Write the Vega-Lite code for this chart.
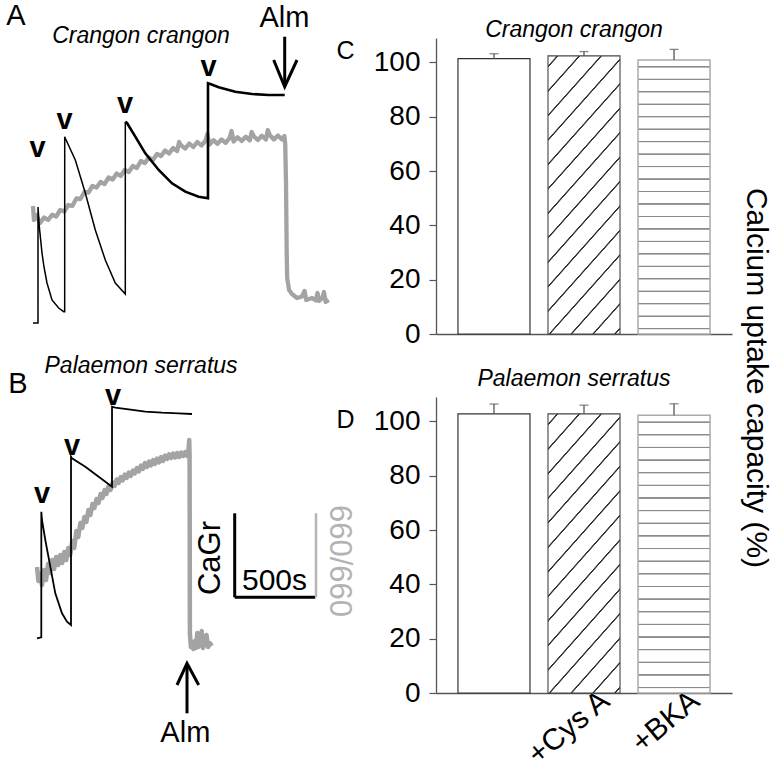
{
  "$schema": "https://vega.github.io/schema/vega-lite/v6.json",
  "background": "white",
  "padding": {"left": 6, "top": 2, "right": 0, "bottom": 0},
  "autosize": {"type": "pad"},
  "bounds": "flush",
  "columns": 2,
  "spacing": {"row": 63, "column": 104},
  "config": {
    "view": {"stroke": null},
    "font": "Liberation Sans",
    "text": {"font": "Liberation Sans", "color": "#000"},
    "axis": {"labelFont": "Liberation Sans", "titleFont": "Liberation Sans"},
    "title": {"font": "Liberation Sans"}
  },
  "datasets": {
    "greyA": [
      {"t":6,"v":128},{"t":12,"v":114},{"t":25,"v":119},{"t":50,"v":111},{"t":75,"v":116.5},{"t":100,"v":114},{"t":125,"v":119.3},{"t":150,"v":117.5},{"t":175,"v":124},{"t":200,"v":122.5},{"t":225,"v":129},{"t":250,"v":128},{"t":275,"v":135.5},{"t":300,"v":135},{"t":325,"v":142},{"t":350,"v":141.5},{"t":375,"v":148},{"t":400,"v":146.5},{"t":425,"v":152},{"t":450,"v":150},{"t":475,"v":156.5},{"t":500,"v":154.5},{"t":525,"v":160.5},{"t":550,"v":158},{"t":575,"v":164},{"t":600,"v":162},{"t":625,"v":168},{"t":650,"v":166},{"t":675,"v":173},{"t":700,"v":171},{"t":725,"v":176.5},{"t":750,"v":174},{"t":775,"v":180},{"t":800,"v":178},{"t":825,"v":183.5},{"t":850,"v":180.5},{"t":875,"v":186},{"t":900,"v":183},{"t":912,"v":192},{"t":925,"v":188.5},{"t":950,"v":185.5},{"t":975,"v":190.5},{"t":1000,"v":187},{"t":1025,"v":192},{"t":1050,"v":188.5},{"t":1075,"v":193},{"t":1087,"v":200},{"t":1100,"v":189.5},{"t":1125,"v":193.8},{"t":1150,"v":190.2},{"t":1175,"v":194.6},{"t":1200,"v":191.2},{"t":1225,"v":196},{"t":1237,"v":203},{"t":1250,"v":192.5},{"t":1275,"v":196.8},{"t":1300,"v":193},{"t":1325,"v":197.3},{"t":1350,"v":193.6},{"t":1362,"v":202},{"t":1375,"v":197.8},{"t":1400,"v":194},{"t":1425,"v":198.3},{"t":1450,"v":194.5},{"t":1462,"v":204},{"t":1475,"v":198.6},{"t":1500,"v":194.6},{"t":1525,"v":198.5},{"t":1550,"v":194.5},{"t":1565,"v":198},{"t":1570,"v":190},{"t":1575,"v":150},{"t":1579,"v":84},{"t":1582,"v":56},{"t":1594,"v":44},{"t":1612,"v":40},{"t":1643,"v":36},{"t":1674,"v":37.5},{"t":1690,"v":43},{"t":1700,"v":34},{"t":1736,"v":36},{"t":1760,"v":33.5},{"t":1770,"v":41},{"t":1780,"v":33},{"t":1800,"v":36},{"t":1810,"v":42},{"t":1820,"v":32},{"t":1840,"v":34}
    ],
    "blackA": [
      {"t":6.2,"v":11},{"t":37.2,"v":11},{"t":37.3,"v":127},{"t":45.3,"v":107.3},{"t":62,"v":81},{"t":74.4,"v":67},{"t":93,"v":51},{"t":124,"v":34},{"t":165.5,"v":26},{"t":196.5,"v":22.3},{"t":202.7,"v":22.3},{"t":202.8,"v":197.3},{"t":206.5,"v":195.7},{"t":268.5,"v":174},{"t":330.5,"v":141},{"t":392.5,"v":104},{"t":454.5,"v":74},{"t":516.5,"v":51},{"t":578.5,"v":40},{"t":578.6,"v":212.3},{"t":589,"v":211},{"t":640.5,"v":197.3},{"t":702.5,"v":180.7},{"t":785.5,"v":164},{"t":868,"v":150.7},{"t":950.5,"v":142.3},{"t":1033.5,"v":137.3},{"t":1091,"v":135.7},{"t":1091.1,"v":250.7},{"t":1105.5,"v":250},{"t":1157.5,"v":246.7},{"t":1260.5,"v":242.3},{"t":1364,"v":240},{"t":1467.5,"v":239},{"t":1566.7,"v":239}
    ],
    "greyB": [
      {"t":31,"v":126},{"t":40,"v":112},{"t":50,"v":119},{"t":62,"v":108},{"t":75,"v":123},{"t":87,"v":113},{"t":100,"v":129},{"t":112,"v":120},{"t":125,"v":133},{"t":137,"v":124},{"t":150,"v":136},{"t":162,"v":128},{"t":175,"v":138},{"t":187,"v":130},{"t":200,"v":141},{"t":212,"v":133},{"t":225,"v":145},{"t":237,"v":138},{"t":250,"v":152},{"t":262,"v":145},{"t":275,"v":162},{"t":287,"v":156},{"t":300,"v":170},{"t":312,"v":165},{"t":325,"v":176},{"t":337,"v":171},{"t":350,"v":183},{"t":362,"v":178},{"t":375,"v":189},{"t":387,"v":185},{"t":400,"v":194},{"t":412,"v":190},{"t":425,"v":199},{"t":437,"v":195},{"t":450,"v":203},{"t":462,"v":199},{"t":475,"v":207},{"t":487,"v":203},{"t":500,"v":210.5},{"t":512,"v":207},{"t":525,"v":213.5},{"t":537,"v":210},{"t":550,"v":216},{"t":562,"v":212.5},{"t":575,"v":218.5},{"t":587,"v":215},{"t":600,"v":220.5},{"t":612,"v":217},{"t":625,"v":222.5},{"t":637,"v":219.5},{"t":650,"v":225},{"t":662,"v":221.5},{"t":675,"v":227.5},{"t":687,"v":224},{"t":700,"v":230},{"t":712,"v":226},{"t":725,"v":231.5},{"t":737,"v":227.5},{"t":750,"v":233},{"t":762,"v":229},{"t":775,"v":234.5},{"t":787,"v":230.5},{"t":800,"v":236},{"t":812,"v":232},{"t":825,"v":237.5},{"t":837,"v":234},{"t":850,"v":238.7},{"t":862,"v":235},{"t":875,"v":239.5},{"t":887,"v":235.5},{"t":900,"v":240},{"t":912,"v":236},{"t":925,"v":240.5},{"t":937,"v":237},{"t":950,"v":241},{"t":962,"v":237},{"t":970,"v":242},{"t":975,"v":253},{"t":977,"v":238},{"t":979,"v":60},{"t":985,"v":46},{"t":992,"v":50},{"t":1000,"v":44},{"t":1010,"v":52},{"t":1015,"v":45},{"t":1025,"v":60},{"t":1032,"v":46},{"t":1042,"v":50},{"t":1052,"v":62},{"t":1060,"v":45},{"t":1070,"v":49},{"t":1082,"v":58},{"t":1092,"v":46},{"t":1102,"v":50},{"t":1115,"v":47}
    ],
    "blackB": [
      {"t":31,"v":54.7},{"t":57.7,"v":55.7},{"t":57.8,"v":181.3},{"t":62,"v":173},{"t":82.5,"v":153},{"t":113.5,"v":126.3},{"t":144.5,"v":99.7},{"t":186,"v":79.7},{"t":217,"v":71.3},{"t":241.8,"v":68},{"t":241.9,"v":236.3},{"t":248,"v":234.7},{"t":330.5,"v":226.3},{"t":413.5,"v":216.3},{"t":496,"v":206.3},{"t":496.1,"v":286.3},{"t":516.5,"v":285.3},{"t":599.5,"v":283.7},{"t":702.5,"v":281.3},{"t":806,"v":280.3},{"t":909.5,"v":279.7},{"t":992,"v":279}
    ],
    "barsC": [
      {"cond": "Control", "mean": 101.4, "upper": 103.2},
      {"cond": "+Cys A", "mean": 102.4, "upper": 104.0},
      {"cond": "+BKA", "mean": 100.9, "upper": 104.8}
    ],
    "barsD": [
      {"cond": "Control", "mean": 102.8, "upper": 106.4},
      {"cond": "+Cys A", "mean": 102.8, "upper": 106.0},
      {"cond": "+BKA", "mean": 102.3, "upper": 106.5}
    ]
  },
  "concat": [
    {
      "width": 300,
      "height": 296,
      "layer": [
        {"data": {"name": "greyA"}, "mark": {"type": "line", "color": "#a3a3a3", "strokeWidth": 4.3, "strokeJoin": "round"},
         "encoding": {"x": {"field": "t", "type": "quantitative", "scale": {"domain": [0, 1860], "nice": false, "zero": false}, "axis": null},
                      "y": {"field": "v", "type": "quantitative", "scale": {"domain": [0, 296], "nice": false, "zero": false}, "axis": null}}},
        {"data": {"name": "blackA"}, "transform": [{"filter": "datum.t <= 578.6"}], "mark": {"type": "line", "color": "#000", "strokeWidth": 1.5},
         "encoding": {"x": {"field": "t", "type": "quantitative", "scale": {"domain": [0, 1860], "nice": false, "zero": false}, "axis": null},
                      "y": {"field": "v", "type": "quantitative", "scale": {"domain": [0, 296], "nice": false, "zero": false}, "axis": null}}},
        {"data": {"name": "blackA"}, "transform": [{"filter": "datum.t >= 578.6"}], "mark": {"type": "line", "color": "#000", "strokeWidth": 2.6},
         "encoding": {"x": {"field": "t", "type": "quantitative", "scale": {"domain": [0, 1860], "nice": false, "zero": false}, "axis": null},
                      "y": {"field": "v", "type": "quantitative", "scale": {"domain": [0, 296], "nice": false, "zero": false}, "axis": null}}},
        {"data": {"values": [{"t": 34, "v": 177}, {"t": 201.5, "v": 205}, {"t": 576.6, "v": 221}, {"t": 1094, "v": 258}]},
         "mark": {"type": "text", "text": "v", "fontSize": 29, "fontWeight": "bold", "baseline": "alphabetic", "align": "center"},
         "encoding": {"x": {"field": "t", "type": "quantitative", "scale": {"domain": [0, 1860], "nice": false, "zero": false}, "axis": null},
                      "y": {"field": "v", "type": "quantitative", "scale": {"domain": [0, 296], "nice": false, "zero": false}, "axis": null}}},
        {"data": {"values": [{"t": 1566.7, "v": 297.3, "v2": 248}]}, "mark": {"type": "rule", "color": "#000", "strokeWidth": 3},
         "encoding": {"x": {"field": "t", "type": "quantitative", "scale": {"domain": [0, 1860], "nice": false, "zero": false}, "axis": null},
                      "y": {"field": "v", "type": "quantitative", "scale": {"domain": [0, 296], "nice": false, "zero": false}, "axis": null},
                      "y2": {"field": "v2"}}},
        {"data": {"values": [{"t": 1498.5, "v": 274}, {"t": 1566.7, "v": 247.3}, {"t": 1643, "v": 274}]}, "mark": {"type": "line", "color": "#000", "strokeWidth": 3, "strokeJoin": "miter"},
         "encoding": {"x": {"field": "t", "type": "quantitative", "scale": {"domain": [0, 1860], "nice": false, "zero": false}, "axis": null},
                      "y": {"field": "v", "type": "quantitative", "scale": {"domain": [0, 296], "nice": false, "zero": false}, "axis": null}}},
        {"data": {"values": [{"t": 1565.5, "v": 307.3, "label": "Alm"}, {"t": -99.2, "v": 309, "label": "A"}]},
         "mark": {"type": "text", "fontSize": 29, "baseline": "alphabetic", "align": "center"},
         "encoding": {"x": {"field": "t", "type": "quantitative", "scale": {"domain": [0, 1860], "nice": false, "zero": false}, "axis": null},
                      "y": {"field": "v", "type": "quantitative", "scale": {"domain": [0, 296], "nice": false, "zero": false}, "axis": null},
                      "text": {"field": "label"}}},
        {"data": {"values": [{"t": 675.8, "v": 291, "label": "Crangon crangon"}]},
         "mark": {"type": "text", "fontSize": 23, "fontStyle": "italic", "baseline": "alphabetic", "align": "center"},
         "encoding": {"x": {"field": "t", "type": "quantitative", "scale": {"domain": [0, 1860], "nice": false, "zero": false}, "axis": null},
                      "y": {"field": "v", "type": "quantitative", "scale": {"domain": [0, 296], "nice": false, "zero": false}, "axis": null},
                      "text": {"field": "label"}}}
      ]
    },
    {
      "width": 296,
      "height": 296,
      "title": {"text": "Crangon crangon", "fontSize": 23, "fontStyle": "italic", "fontWeight": "normal", "baseline": "alphabetic", "offset": -22, "dx": -10, "anchor": "middle", "color": "#000"},
      "data": {"name": "barsC"},
      "layer": [
        {"transform": [{"filter": "datum.cond == 'Control'"}],
         "mark": {"type": "bar", "fill": "#ffffff", "stroke": "#333333", "strokeWidth": 1.2},
         "encoding": {
           "x": {"field": "cond", "type": "nominal", "scale": {"domain": ["Control", "+Cys A", "+BKA"], "paddingInner": 0.2, "paddingOuter": 0.244}, "axis": {"title": null, "labels": false, "ticks": false, "tickSize": 0, "domainColor": "#555", "domainWidth": 1.3}},
           "y": {"field": "mean", "type": "quantitative", "scale": {"domain": [0, 109], "nice": false, "zero": true},
                 "axis": {"orient": "left", "values": [0, 20, 40, 60, 80, 100], "title": "C", "titleAngle": 0, "titleX": -91, "titleY": 20, "titleFontSize": 25, "titleFontWeight": "normal", "titleAlign": "center", "titleBaseline": "alphabetic", "titleColor": "#000", "labelFontSize": 28, "labelColor": "#000", "labelPadding": 9, "tickSize": 7, "tickColor": "#555", "tickWidth": 1.2, "domainColor": "#555", "domainWidth": 1.3, "grid": false}}
         }},
        {"transform": [{"filter": "datum.cond == '+Cys A'"}],
         "mark": {"type": "bar", "stroke": "#444444", "strokeWidth": 1.1,
                  "fill": {"gradient": "linear", "x1": 0, "y1": 0, "x2": 0.345, "y2": 1.189, "stops": [
                    {"offset": 0.026, "color": "#ffffff"}, {"offset": 0.0282, "color": "#333333"}, {"offset": 0.0318, "color": "#333333"}, {"offset": 0.034, "color": "#ffffff"},
                    {"offset": 0.0942, "color": "#ffffff"}, {"offset": 0.0964, "color": "#333333"}, {"offset": 0.1, "color": "#333333"}, {"offset": 0.1022, "color": "#ffffff"},
                    {"offset": 0.1624, "color": "#ffffff"}, {"offset": 0.1646, "color": "#333333"}, {"offset": 0.1682, "color": "#333333"}, {"offset": 0.1704, "color": "#ffffff"},
                    {"offset": 0.2306, "color": "#ffffff"}, {"offset": 0.2328, "color": "#333333"}, {"offset": 0.2364, "color": "#333333"}, {"offset": 0.2386, "color": "#ffffff"},
                    {"offset": 0.2988, "color": "#ffffff"}, {"offset": 0.301, "color": "#333333"}, {"offset": 0.3046, "color": "#333333"}, {"offset": 0.3068, "color": "#ffffff"},
                    {"offset": 0.367, "color": "#ffffff"}, {"offset": 0.3692, "color": "#333333"}, {"offset": 0.3728, "color": "#333333"}, {"offset": 0.375, "color": "#ffffff"},
                    {"offset": 0.4352, "color": "#ffffff"}, {"offset": 0.4374, "color": "#333333"}, {"offset": 0.441, "color": "#333333"}, {"offset": 0.4432, "color": "#ffffff"},
                    {"offset": 0.5034, "color": "#ffffff"}, {"offset": 0.5056, "color": "#333333"}, {"offset": 0.5092, "color": "#333333"}, {"offset": 0.5114, "color": "#ffffff"},
                    {"offset": 0.5716, "color": "#ffffff"}, {"offset": 0.5738, "color": "#333333"}, {"offset": 0.5774, "color": "#333333"}, {"offset": 0.5796, "color": "#ffffff"},
                    {"offset": 0.6398, "color": "#ffffff"}, {"offset": 0.642, "color": "#333333"}, {"offset": 0.6456, "color": "#333333"}, {"offset": 0.6478, "color": "#ffffff"},
                    {"offset": 0.708, "color": "#ffffff"}, {"offset": 0.7102, "color": "#333333"}, {"offset": 0.7138, "color": "#333333"}, {"offset": 0.716, "color": "#ffffff"},
                    {"offset": 0.7762, "color": "#ffffff"}, {"offset": 0.7784, "color": "#333333"}, {"offset": 0.782, "color": "#333333"}, {"offset": 0.7842, "color": "#ffffff"},
                    {"offset": 0.8444, "color": "#ffffff"}, {"offset": 0.8466, "color": "#333333"}, {"offset": 0.8502, "color": "#333333"}, {"offset": 0.8524, "color": "#ffffff"},
                    {"offset": 0.9126, "color": "#ffffff"}, {"offset": 0.9148, "color": "#333333"}, {"offset": 0.9184, "color": "#333333"}, {"offset": 0.9206, "color": "#ffffff"},
                    {"offset": 0.9808, "color": "#ffffff"}, {"offset": 0.983, "color": "#333333"}, {"offset": 0.9866, "color": "#333333"}, {"offset": 0.9888, "color": "#ffffff"}
                  ]}},
         "encoding": {
           "x": {"field": "cond", "type": "nominal", "scale": {"domain": ["Control", "+Cys A", "+BKA"], "paddingInner": 0.2, "paddingOuter": 0.244}, "axis": {"title": null, "labels": false, "ticks": false, "tickSize": 0, "domainColor": "#555", "domainWidth": 1.3}},
           "y": {"field": "mean", "type": "quantitative", "scale": {"domain": [0, 109], "nice": false, "zero": true}, "axis": null}
         }},
        {"transform": [{"filter": "datum.cond == '+BKA'"}],
         "mark": {"type": "bar", "stroke": "#aaaaaa", "strokeWidth": 1.5,
                  "fill": {"gradient": "linear", "x1": 0, "y1": 0, "x2": 0, "y2": 1, "stops": [
                    {"offset": 0.0215, "color": "#ffffff"}, {"offset": 0.0233, "color": "#8c8c8c"}, {"offset": 0.0267, "color": "#8c8c8c"}, {"offset": 0.0285, "color": "#ffffff"},
                    {"offset": 0.067, "color": "#ffffff"}, {"offset": 0.0688, "color": "#8c8c8c"}, {"offset": 0.0722, "color": "#8c8c8c"}, {"offset": 0.074, "color": "#ffffff"},
                    {"offset": 0.1125, "color": "#ffffff"}, {"offset": 0.1143, "color": "#8c8c8c"}, {"offset": 0.1177, "color": "#8c8c8c"}, {"offset": 0.1195, "color": "#ffffff"},
                    {"offset": 0.158, "color": "#ffffff"}, {"offset": 0.1598, "color": "#8c8c8c"}, {"offset": 0.1632, "color": "#8c8c8c"}, {"offset": 0.165, "color": "#ffffff"},
                    {"offset": 0.2035, "color": "#ffffff"}, {"offset": 0.2053, "color": "#8c8c8c"}, {"offset": 0.2087, "color": "#8c8c8c"}, {"offset": 0.2105, "color": "#ffffff"},
                    {"offset": 0.249, "color": "#ffffff"}, {"offset": 0.2508, "color": "#8c8c8c"}, {"offset": 0.2542, "color": "#8c8c8c"}, {"offset": 0.256, "color": "#ffffff"},
                    {"offset": 0.2945, "color": "#ffffff"}, {"offset": 0.2963, "color": "#8c8c8c"}, {"offset": 0.2997, "color": "#8c8c8c"}, {"offset": 0.3015, "color": "#ffffff"},
                    {"offset": 0.34, "color": "#ffffff"}, {"offset": 0.3418, "color": "#8c8c8c"}, {"offset": 0.3452, "color": "#8c8c8c"}, {"offset": 0.347, "color": "#ffffff"},
                    {"offset": 0.3855, "color": "#ffffff"}, {"offset": 0.3873, "color": "#8c8c8c"}, {"offset": 0.3907, "color": "#8c8c8c"}, {"offset": 0.3925, "color": "#ffffff"},
                    {"offset": 0.431, "color": "#ffffff"}, {"offset": 0.4328, "color": "#8c8c8c"}, {"offset": 0.4362, "color": "#8c8c8c"}, {"offset": 0.438, "color": "#ffffff"},
                    {"offset": 0.4765, "color": "#ffffff"}, {"offset": 0.4783, "color": "#8c8c8c"}, {"offset": 0.4817, "color": "#8c8c8c"}, {"offset": 0.4835, "color": "#ffffff"},
                    {"offset": 0.522, "color": "#ffffff"}, {"offset": 0.5238, "color": "#8c8c8c"}, {"offset": 0.5272, "color": "#8c8c8c"}, {"offset": 0.529, "color": "#ffffff"},
                    {"offset": 0.5675, "color": "#ffffff"}, {"offset": 0.5693, "color": "#8c8c8c"}, {"offset": 0.5727, "color": "#8c8c8c"}, {"offset": 0.5745, "color": "#ffffff"},
                    {"offset": 0.613, "color": "#ffffff"}, {"offset": 0.6148, "color": "#8c8c8c"}, {"offset": 0.6182, "color": "#8c8c8c"}, {"offset": 0.62, "color": "#ffffff"},
                    {"offset": 0.6585, "color": "#ffffff"}, {"offset": 0.6603, "color": "#8c8c8c"}, {"offset": 0.6637, "color": "#8c8c8c"}, {"offset": 0.6655, "color": "#ffffff"},
                    {"offset": 0.704, "color": "#ffffff"}, {"offset": 0.7058, "color": "#8c8c8c"}, {"offset": 0.7092, "color": "#8c8c8c"}, {"offset": 0.711, "color": "#ffffff"},
                    {"offset": 0.7495, "color": "#ffffff"}, {"offset": 0.7513, "color": "#8c8c8c"}, {"offset": 0.7547, "color": "#8c8c8c"}, {"offset": 0.7565, "color": "#ffffff"},
                    {"offset": 0.795, "color": "#ffffff"}, {"offset": 0.7968, "color": "#8c8c8c"}, {"offset": 0.8002, "color": "#8c8c8c"}, {"offset": 0.802, "color": "#ffffff"},
                    {"offset": 0.8405, "color": "#ffffff"}, {"offset": 0.8423, "color": "#8c8c8c"}, {"offset": 0.8457, "color": "#8c8c8c"}, {"offset": 0.8475, "color": "#ffffff"},
                    {"offset": 0.886, "color": "#ffffff"}, {"offset": 0.8878, "color": "#8c8c8c"}, {"offset": 0.8912, "color": "#8c8c8c"}, {"offset": 0.893, "color": "#ffffff"},
                    {"offset": 0.9315, "color": "#ffffff"}, {"offset": 0.9333, "color": "#8c8c8c"}, {"offset": 0.9367, "color": "#8c8c8c"}, {"offset": 0.9385, "color": "#ffffff"},
                    {"offset": 0.977, "color": "#ffffff"}, {"offset": 0.9788, "color": "#8c8c8c"}, {"offset": 0.9822, "color": "#8c8c8c"}, {"offset": 0.984, "color": "#ffffff"}
                  ]}},
         "encoding": {
           "x": {"field": "cond", "type": "nominal", "scale": {"domain": ["Control", "+Cys A", "+BKA"], "paddingInner": 0.2, "paddingOuter": 0.244}, "axis": {"title": null, "labels": false, "ticks": false, "tickSize": 0, "domainColor": "#555", "domainWidth": 1.3}},
           "y": {"field": "mean", "type": "quantitative", "scale": {"domain": [0, 109], "nice": false, "zero": true}, "axis": null}
         }},
        {"mark": {"type": "rule", "color": "#555555", "strokeWidth": 1.3},
         "encoding": {
           "x": {"field": "cond", "type": "nominal", "scale": {"domain": ["Control", "+Cys A", "+BKA"], "paddingInner": 0.2, "paddingOuter": 0.244}, "axis": {"title": null, "labels": false, "ticks": false, "tickSize": 0, "domainColor": "#555", "domainWidth": 1.3}},
           "y": {"field": "mean", "type": "quantitative", "scale": {"domain": [0, 109], "nice": false, "zero": true},
                 "axis": {"orient": "right", "title": "Calcium uptake capacity (%)", "titleAngle": 90, "titleX": 14, "titleY": 339.5, "titleFontSize": 30, "titleFontWeight": "normal", "titleColor": "#000", "titleAlign": "center", "titleBaseline": "alphabetic", "labels": false, "ticks": false, "domain": false, "grid": false}},
           "y2": {"field": "upper"}
         }},
        {"mark": {"type": "tick", "color": "#555555", "thickness": 1.3, "size": 9},
         "encoding": {
           "x": {"field": "cond", "type": "nominal", "scale": {"domain": ["Control", "+Cys A", "+BKA"], "paddingInner": 0.2, "paddingOuter": 0.244}, "axis": {"title": null, "labels": false, "ticks": false, "tickSize": 0, "domainColor": "#555", "domainWidth": 1.3}},
           "y": {"field": "upper", "type": "quantitative", "scale": {"domain": [0, 109], "nice": false, "zero": true}, "axis": null}
         }}
      ],
      "resolve": {"axis": {"y": "independent"}}
    },
    {
      "width": 300,
      "height": 296,
      "layer": [
        {"data": {"name": "greyB"}, "mark": {"type": "line", "color": "#a3a3a3", "strokeWidth": 4.5, "strokeJoin": "round"},
         "encoding": {"x": {"field": "t", "type": "quantitative", "scale": {"domain": [0, 1860], "nice": false, "zero": false}, "axis": null},
                      "y": {"field": "v", "type": "quantitative", "scale": {"domain": [0, 296], "nice": false, "zero": false}, "axis": null}}},
        {"data": {"name": "blackB"}, "mark": {"type": "line", "color": "#000", "strokeWidth": 1.8},
         "encoding": {"x": {"field": "t", "type": "quantitative", "scale": {"domain": [0, 1860], "nice": false, "zero": false}, "axis": null},
                      "y": {"field": "v", "type": "quantitative", "scale": {"domain": [0, 296], "nice": false, "zero": false}, "axis": null}}},
        {"data": {"values": [{"t": 62, "v": 190}, {"t": 248, "v": 238}, {"t": 502, "v": 288}]},
         "mark": {"type": "text", "text": "v", "fontSize": 29, "fontWeight": "bold", "baseline": "alphabetic", "align": "center"},
         "encoding": {"x": {"field": "t", "type": "quantitative", "scale": {"domain": [0, 1860], "nice": false, "zero": false}, "axis": null},
                      "y": {"field": "v", "type": "quantitative", "scale": {"domain": [0, 296], "nice": false, "zero": false}, "axis": null}}},
        {"data": {"values": [{"t": 961, "v": -20.3, "v2": 29}, {"t": 1256.7, "v": 95.7, "v2": 179.7}]}, "mark": {"type": "rule", "color": "#000", "strokeWidth": 3},
         "encoding": {"x": {"field": "t", "type": "quantitative", "scale": {"domain": [0, 1860], "nice": false, "zero": false}, "axis": null},
                      "y": {"field": "v", "type": "quantitative", "scale": {"domain": [0, 296], "nice": false, "zero": false}, "axis": null},
                      "y2": {"field": "v2"}}},
        {"data": {"values": [{"t": 1256.7, "t2": 1756.5, "v": 95.7}]}, "mark": {"type": "rule", "color": "#000", "strokeWidth": 3},
         "encoding": {"x": {"field": "t", "type": "quantitative", "scale": {"domain": [0, 1860], "nice": false, "zero": false}, "axis": null},
                      "x2": {"field": "t2"},
                      "y": {"field": "v", "type": "quantitative", "scale": {"domain": [0, 296], "nice": false, "zero": false}, "axis": null}}},
        {"data": {"values": [{"t": 1760.8, "v": 95.7, "v2": 179.7}]}, "mark": {"type": "rule", "color": "#b5b5b5", "strokeWidth": 2.5},
         "encoding": {"x": {"field": "t", "type": "quantitative", "scale": {"domain": [0, 1860], "nice": false, "zero": false}, "axis": null},
                      "y": {"field": "v", "type": "quantitative", "scale": {"domain": [0, 296], "nice": false, "zero": false}, "axis": null},
                      "y2": {"field": "v2"}}},
        {"data": {"values": [{"t": 899, "v": 8}, {"t": 961, "v": 29.7}, {"t": 1033.5, "v": 8}]}, "mark": {"type": "line", "color": "#000", "strokeWidth": 3, "strokeJoin": "miter"},
         "encoding": {"x": {"field": "t", "type": "quantitative", "scale": {"domain": [0, 1860], "nice": false, "zero": false}, "axis": null},
                      "y": {"field": "v", "type": "quantitative", "scale": {"domain": [0, 296], "nice": false, "zero": false}, "axis": null}}},
        {"data": {"values": [{"t": 950.7, "v": -48.7, "label": "Alm"}, {"t": -86.8, "v": 300, "label": "B"}]},
         "mark": {"type": "text", "fontSize": 29, "baseline": "alphabetic", "align": "center"},
         "encoding": {"x": {"field": "t", "type": "quantitative", "scale": {"domain": [0, 1860], "nice": false, "zero": false}, "axis": null},
                      "y": {"field": "v", "type": "quantitative", "scale": {"domain": [0, 296], "nice": false, "zero": false}, "axis": null},
                      "text": {"field": "label"}}},
        {"data": {"values": [{"t": 1503.5, "v": 103, "label": "500s"}]},
         "mark": {"type": "text", "fontSize": 30, "baseline": "alphabetic", "align": "center"},
         "encoding": {"x": {"field": "t", "type": "quantitative", "scale": {"domain": [0, 1860], "nice": false, "zero": false}, "axis": null},
                      "y": {"field": "v", "type": "quantitative", "scale": {"domain": [0, 296], "nice": false, "zero": false}, "axis": null},
                      "text": {"field": "label"}}},
        {"data": {"values": [{"t": 1165.6, "v": 135, "label": "CaGr"}]},
         "mark": {"type": "text", "fontSize": 31, "baseline": "alphabetic", "align": "center", "angle": 270},
         "encoding": {"x": {"field": "t", "type": "quantitative", "scale": {"domain": [0, 1860], "nice": false, "zero": false}, "axis": null},
                      "y": {"field": "v", "type": "quantitative", "scale": {"domain": [0, 296], "nice": false, "zero": false}, "axis": null},
                      "text": {"field": "label"}}},
        {"data": {"values": [{"t": 1847.6, "v": 132, "label": "660/660"}]},
         "mark": {"type": "text", "fontSize": 31, "baseline": "alphabetic", "align": "center", "angle": 90, "color": "#b3b3b3"},
         "encoding": {"x": {"field": "t", "type": "quantitative", "scale": {"domain": [0, 1860], "nice": false, "zero": false}, "axis": null},
                      "y": {"field": "v", "type": "quantitative", "scale": {"domain": [0, 296], "nice": false, "zero": false}, "axis": null},
                      "text": {"field": "label"}}},
        {"data": {"values": [{"t": 676, "v": 320, "label": "Palaemon serratus"}]},
         "mark": {"type": "text", "fontSize": 23, "fontStyle": "italic", "baseline": "alphabetic", "align": "center"},
         "encoding": {"x": {"field": "t", "type": "quantitative", "scale": {"domain": [0, 1860], "nice": false, "zero": false}, "axis": null},
                      "y": {"field": "v", "type": "quantitative", "scale": {"domain": [0, 296], "nice": false, "zero": false}, "axis": null},
                      "text": {"field": "label"}}}
      ]
    },
    {
      "width": 296,
      "height": 296,
      "title": {"text": "Palaemon serratus", "fontSize": 23, "fontStyle": "italic", "fontWeight": "normal", "baseline": "alphabetic", "offset": -12, "dx": -10, "anchor": "middle", "color": "#000"},
      "data": {"name": "barsD"},
      "layer": [
        {"transform": [{"filter": "datum.cond == 'Control'"}],
         "mark": {"type": "bar", "fill": "#ffffff", "stroke": "#333333", "strokeWidth": 1.2},
         "encoding": {
           "x": {"field": "cond", "type": "nominal", "scale": {"domain": ["Control", "+Cys A", "+BKA"], "paddingInner": 0.2, "paddingOuter": 0.244}, "axis": {"title": null, "ticks": false, "tickSize": 0, "domainColor": "#555", "domainWidth": 1.3, "labelAngle": -40, "labelFontSize": 30, "labelColor": "#000", "labelPadding": -8, "labelOffset": 12, "labelAlign": "right", "labelBaseline": "top", "labelExpr": "datum.value == 'Control' ? '' : datum.label"}},
           "y": {"field": "mean", "type": "quantitative", "scale": {"domain": [0, 109], "nice": false, "zero": true},
                 "axis": {"orient": "left", "values": [0, 20, 40, 60, 80, 100], "title": "D", "titleAngle": 0, "titleX": -91, "titleY": 30, "titleFontSize": 25, "titleFontWeight": "normal", "titleAlign": "center", "titleBaseline": "alphabetic", "titleColor": "#000", "labelFontSize": 28, "labelColor": "#000", "labelPadding": 9, "tickSize": 7, "tickColor": "#555", "tickWidth": 1.2, "domainColor": "#555", "domainWidth": 1.3, "grid": false}}
         }},
        {"transform": [{"filter": "datum.cond == '+Cys A'"}],
         "mark": {"type": "bar", "stroke": "#444444", "strokeWidth": 1.1,
                  "fill": {"gradient": "linear", "x1": 0, "y1": 0, "x2": 0.345, "y2": 1.189, "stops": [
                    {"offset": 0.026, "color": "#ffffff"}, {"offset": 0.0282, "color": "#333333"}, {"offset": 0.0318, "color": "#333333"}, {"offset": 0.034, "color": "#ffffff"},
                    {"offset": 0.0942, "color": "#ffffff"}, {"offset": 0.0964, "color": "#333333"}, {"offset": 0.1, "color": "#333333"}, {"offset": 0.1022, "color": "#ffffff"},
                    {"offset": 0.1624, "color": "#ffffff"}, {"offset": 0.1646, "color": "#333333"}, {"offset": 0.1682, "color": "#333333"}, {"offset": 0.1704, "color": "#ffffff"},
                    {"offset": 0.2306, "color": "#ffffff"}, {"offset": 0.2328, "color": "#333333"}, {"offset": 0.2364, "color": "#333333"}, {"offset": 0.2386, "color": "#ffffff"},
                    {"offset": 0.2988, "color": "#ffffff"}, {"offset": 0.301, "color": "#333333"}, {"offset": 0.3046, "color": "#333333"}, {"offset": 0.3068, "color": "#ffffff"},
                    {"offset": 0.367, "color": "#ffffff"}, {"offset": 0.3692, "color": "#333333"}, {"offset": 0.3728, "color": "#333333"}, {"offset": 0.375, "color": "#ffffff"},
                    {"offset": 0.4352, "color": "#ffffff"}, {"offset": 0.4374, "color": "#333333"}, {"offset": 0.441, "color": "#333333"}, {"offset": 0.4432, "color": "#ffffff"},
                    {"offset": 0.5034, "color": "#ffffff"}, {"offset": 0.5056, "color": "#333333"}, {"offset": 0.5092, "color": "#333333"}, {"offset": 0.5114, "color": "#ffffff"},
                    {"offset": 0.5716, "color": "#ffffff"}, {"offset": 0.5738, "color": "#333333"}, {"offset": 0.5774, "color": "#333333"}, {"offset": 0.5796, "color": "#ffffff"},
                    {"offset": 0.6398, "color": "#ffffff"}, {"offset": 0.642, "color": "#333333"}, {"offset": 0.6456, "color": "#333333"}, {"offset": 0.6478, "color": "#ffffff"},
                    {"offset": 0.708, "color": "#ffffff"}, {"offset": 0.7102, "color": "#333333"}, {"offset": 0.7138, "color": "#333333"}, {"offset": 0.716, "color": "#ffffff"},
                    {"offset": 0.7762, "color": "#ffffff"}, {"offset": 0.7784, "color": "#333333"}, {"offset": 0.782, "color": "#333333"}, {"offset": 0.7842, "color": "#ffffff"},
                    {"offset": 0.8444, "color": "#ffffff"}, {"offset": 0.8466, "color": "#333333"}, {"offset": 0.8502, "color": "#333333"}, {"offset": 0.8524, "color": "#ffffff"},
                    {"offset": 0.9126, "color": "#ffffff"}, {"offset": 0.9148, "color": "#333333"}, {"offset": 0.9184, "color": "#333333"}, {"offset": 0.9206, "color": "#ffffff"},
                    {"offset": 0.9808, "color": "#ffffff"}, {"offset": 0.983, "color": "#333333"}, {"offset": 0.9866, "color": "#333333"}, {"offset": 0.9888, "color": "#ffffff"}
                  ]}},
         "encoding": {
           "x": {"field": "cond", "type": "nominal", "scale": {"domain": ["Control", "+Cys A", "+BKA"], "paddingInner": 0.2, "paddingOuter": 0.244}, "axis": {"title": null, "ticks": false, "tickSize": 0, "domainColor": "#555", "domainWidth": 1.3, "labelAngle": -40, "labelFontSize": 30, "labelColor": "#000", "labelPadding": -8, "labelOffset": 12, "labelAlign": "right", "labelBaseline": "top", "labelExpr": "datum.value == 'Control' ? '' : datum.label"}},
           "y": {"field": "mean", "type": "quantitative", "scale": {"domain": [0, 109], "nice": false, "zero": true}, "axis": null}
         }},
        {"transform": [{"filter": "datum.cond == '+BKA'"}],
         "mark": {"type": "bar", "stroke": "#aaaaaa", "strokeWidth": 1.5,
                  "fill": {"gradient": "linear", "x1": 0, "y1": 0, "x2": 0, "y2": 1, "stops": [
                    {"offset": 0.0215, "color": "#ffffff"}, {"offset": 0.0233, "color": "#8c8c8c"}, {"offset": 0.0267, "color": "#8c8c8c"}, {"offset": 0.0285, "color": "#ffffff"},
                    {"offset": 0.067, "color": "#ffffff"}, {"offset": 0.0688, "color": "#8c8c8c"}, {"offset": 0.0722, "color": "#8c8c8c"}, {"offset": 0.074, "color": "#ffffff"},
                    {"offset": 0.1125, "color": "#ffffff"}, {"offset": 0.1143, "color": "#8c8c8c"}, {"offset": 0.1177, "color": "#8c8c8c"}, {"offset": 0.1195, "color": "#ffffff"},
                    {"offset": 0.158, "color": "#ffffff"}, {"offset": 0.1598, "color": "#8c8c8c"}, {"offset": 0.1632, "color": "#8c8c8c"}, {"offset": 0.165, "color": "#ffffff"},
                    {"offset": 0.2035, "color": "#ffffff"}, {"offset": 0.2053, "color": "#8c8c8c"}, {"offset": 0.2087, "color": "#8c8c8c"}, {"offset": 0.2105, "color": "#ffffff"},
                    {"offset": 0.249, "color": "#ffffff"}, {"offset": 0.2508, "color": "#8c8c8c"}, {"offset": 0.2542, "color": "#8c8c8c"}, {"offset": 0.256, "color": "#ffffff"},
                    {"offset": 0.2945, "color": "#ffffff"}, {"offset": 0.2963, "color": "#8c8c8c"}, {"offset": 0.2997, "color": "#8c8c8c"}, {"offset": 0.3015, "color": "#ffffff"},
                    {"offset": 0.34, "color": "#ffffff"}, {"offset": 0.3418, "color": "#8c8c8c"}, {"offset": 0.3452, "color": "#8c8c8c"}, {"offset": 0.347, "color": "#ffffff"},
                    {"offset": 0.3855, "color": "#ffffff"}, {"offset": 0.3873, "color": "#8c8c8c"}, {"offset": 0.3907, "color": "#8c8c8c"}, {"offset": 0.3925, "color": "#ffffff"},
                    {"offset": 0.431, "color": "#ffffff"}, {"offset": 0.4328, "color": "#8c8c8c"}, {"offset": 0.4362, "color": "#8c8c8c"}, {"offset": 0.438, "color": "#ffffff"},
                    {"offset": 0.4765, "color": "#ffffff"}, {"offset": 0.4783, "color": "#8c8c8c"}, {"offset": 0.4817, "color": "#8c8c8c"}, {"offset": 0.4835, "color": "#ffffff"},
                    {"offset": 0.522, "color": "#ffffff"}, {"offset": 0.5238, "color": "#8c8c8c"}, {"offset": 0.5272, "color": "#8c8c8c"}, {"offset": 0.529, "color": "#ffffff"},
                    {"offset": 0.5675, "color": "#ffffff"}, {"offset": 0.5693, "color": "#8c8c8c"}, {"offset": 0.5727, "color": "#8c8c8c"}, {"offset": 0.5745, "color": "#ffffff"},
                    {"offset": 0.613, "color": "#ffffff"}, {"offset": 0.6148, "color": "#8c8c8c"}, {"offset": 0.6182, "color": "#8c8c8c"}, {"offset": 0.62, "color": "#ffffff"},
                    {"offset": 0.6585, "color": "#ffffff"}, {"offset": 0.6603, "color": "#8c8c8c"}, {"offset": 0.6637, "color": "#8c8c8c"}, {"offset": 0.6655, "color": "#ffffff"},
                    {"offset": 0.704, "color": "#ffffff"}, {"offset": 0.7058, "color": "#8c8c8c"}, {"offset": 0.7092, "color": "#8c8c8c"}, {"offset": 0.711, "color": "#ffffff"},
                    {"offset": 0.7495, "color": "#ffffff"}, {"offset": 0.7513, "color": "#8c8c8c"}, {"offset": 0.7547, "color": "#8c8c8c"}, {"offset": 0.7565, "color": "#ffffff"},
                    {"offset": 0.795, "color": "#ffffff"}, {"offset": 0.7968, "color": "#8c8c8c"}, {"offset": 0.8002, "color": "#8c8c8c"}, {"offset": 0.802, "color": "#ffffff"},
                    {"offset": 0.8405, "color": "#ffffff"}, {"offset": 0.8423, "color": "#8c8c8c"}, {"offset": 0.8457, "color": "#8c8c8c"}, {"offset": 0.8475, "color": "#ffffff"},
                    {"offset": 0.886, "color": "#ffffff"}, {"offset": 0.8878, "color": "#8c8c8c"}, {"offset": 0.8912, "color": "#8c8c8c"}, {"offset": 0.893, "color": "#ffffff"},
                    {"offset": 0.9315, "color": "#ffffff"}, {"offset": 0.9333, "color": "#8c8c8c"}, {"offset": 0.9367, "color": "#8c8c8c"}, {"offset": 0.9385, "color": "#ffffff"},
                    {"offset": 0.977, "color": "#ffffff"}, {"offset": 0.9788, "color": "#8c8c8c"}, {"offset": 0.9822, "color": "#8c8c8c"}, {"offset": 0.984, "color": "#ffffff"}
                  ]}},
         "encoding": {
           "x": {"field": "cond", "type": "nominal", "scale": {"domain": ["Control", "+Cys A", "+BKA"], "paddingInner": 0.2, "paddingOuter": 0.244}, "axis": {"title": null, "ticks": false, "tickSize": 0, "domainColor": "#555", "domainWidth": 1.3, "labelAngle": -40, "labelFontSize": 30, "labelColor": "#000", "labelPadding": -8, "labelOffset": 12, "labelAlign": "right", "labelBaseline": "top", "labelExpr": "datum.value == 'Control' ? '' : datum.label"}},
           "y": {"field": "mean", "type": "quantitative", "scale": {"domain": [0, 109], "nice": false, "zero": true}, "axis": null}
         }},
        {"mark": {"type": "rule", "color": "#555555", "strokeWidth": 1.3},
         "encoding": {
           "x": {"field": "cond", "type": "nominal", "scale": {"domain": ["Control", "+Cys A", "+BKA"], "paddingInner": 0.2, "paddingOuter": 0.244}, "axis": {"title": null, "ticks": false, "tickSize": 0, "domainColor": "#555", "domainWidth": 1.3, "labelAngle": -40, "labelFontSize": 30, "labelColor": "#000", "labelPadding": -8, "labelOffset": 12, "labelAlign": "right", "labelBaseline": "top", "labelExpr": "datum.value == 'Control' ? '' : datum.label"}},
           "y": {"field": "mean", "type": "quantitative", "scale": {"domain": [0, 109], "nice": false, "zero": true}, "axis": null},
           "y2": {"field": "upper"}
         }},
        {"mark": {"type": "tick", "color": "#555555", "thickness": 1.3, "size": 9},
         "encoding": {
           "x": {"field": "cond", "type": "nominal", "scale": {"domain": ["Control", "+Cys A", "+BKA"], "paddingInner": 0.2, "paddingOuter": 0.244}, "axis": {"title": null, "ticks": false, "tickSize": 0, "domainColor": "#555", "domainWidth": 1.3, "labelAngle": -40, "labelFontSize": 30, "labelColor": "#000", "labelPadding": -8, "labelOffset": 12, "labelAlign": "right", "labelBaseline": "top", "labelExpr": "datum.value == 'Control' ? '' : datum.label"}},
           "y": {"field": "upper", "type": "quantitative", "scale": {"domain": [0, 109], "nice": false, "zero": true}, "axis": null}
         }}
      ],
      "resolve": {"axis": {"y": "independent"}}
    }
  ]
}
